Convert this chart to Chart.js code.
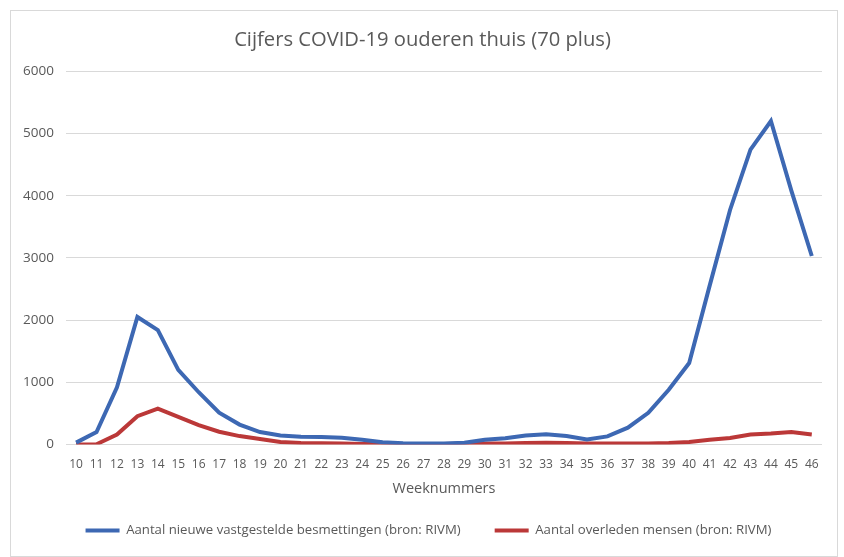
<!DOCTYPE html>
<html>
<head>
<meta charset="utf-8">
<script src="https://cdn.jsdelivr.net/npm/chart.js@4.4.1/dist/chart.umd.min.js"></script>
<style>
  html, body { margin: 0; padding: 0; background: #fff; }
  #wrap { position: relative; width: 844px; height: 557px; }
  #frame { position: absolute; left: 10px; top: 10px; width: 828px; height: 547px; border: 1px solid #d9d9d9; box-sizing: border-box; pointer-events: none; }
  canvas { position: absolute; left: 0; top: 0; }
</style>
</head>
<body>
<div id="wrap">
  <canvas id="chart" width="844" height="557"></canvas>
  <div id="frame"></div>
</div>
<script>
const FONT = '"Open Sans", sans-serif';

const weeks = ['10', '11', '12', '13', '14', '15', '16', '17', '18', '19', '20', '21', '22',
  '23', '24', '25', '26', '27', '28', '29', '30', '31', '32', '33', '34', '35', '36', '37',
  '38', '39', '40', '41', '42', '43', '44', '45', '46'];

// nieuwe vastgestelde besmettingen
const infections = [30, 200, 920, 2050, 1840, 1200, 840, 510, 320, 200, 145, 125, 120,
  110, 75, 35, 20, 15, 15, 30, 75, 100, 145, 165, 135, 80, 130, 270,
  510, 880, 1310, 2550, 3770, 4740, 5200, 4080, 3030];

// overleden mensen
const deaths = [0, 5, 160, 455, 575, 445, 310, 205, 135, 90, 40, 25, 20,
  15, 10, 10, 8, 8, 10, 12, 15, 18, 25, 30, 25, 15, 15, 15,
  18, 25, 40, 75, 105, 160, 175, 200, 160];

const yTicks = [0, 1000, 2000, 3000, 4000, 5000, 6000];

const BLUE = '#3d68b3';
const RED = '#bb3838';
const TEXT = '#595959';

// the legend sits a little right of the canvas centre in the original
const legendShift = {
  id: 'legendShift',
  afterLayout(c) { c.legend.left += 12; },
};

const ctx = document.getElementById('chart');

const chart = new Chart(ctx, {
  type: 'line',
  data: {
    labels: weeks,
    datasets: [
      {
        label: 'Aantal nieuwe vastgestelde besmettingen (bron: RIVM)',
        data: infections,
        borderColor: BLUE,
        backgroundColor: BLUE,
        borderWidth: 4,
        pointRadius: 0,
        tension: 0,
      },
      {
        label: 'Aantal overleden mensen (bron: RIVM)',
        data: deaths,
        borderColor: RED,
        backgroundColor: RED,
        borderWidth: 4,
        pointRadius: 0,
        tension: 0,
      },
    ],
  },
  plugins: [legendShift],
  options: {
    responsive: false,
    animation: false,
    layout: {
      padding: { left: 23, right: 22, top: 14, bottom: 10 },
    },
    scales: {
      x: {
        offset: true,
        // tick marks hidden, their length only pushes the labels down
        grid: { display: false, drawTicks: true, tickLength: 13 },
        border: { display: false },
        ticks: {
          color: TEXT,
          font: { family: FONT, size: 12 },
          padding: 0,
          maxRotation: 0,
          autoSkip: false,
        },
        title: {
          display: true,
          text: 'Weeknummers',
          color: TEXT,
          font: { family: FONT, size: 14.5 },
          padding: { top: 8, bottom: 16.5 },
        },
      },
      y: {
        min: 0,
        max: 6000,
        afterBuildTicks: (axis) => { axis.ticks = yTicks.map((v) => ({ value: v })); },
        // padding is counted on both sides of the labels, drop the outer one
        afterFit: (axis) => { axis.width -= 12; },
        grid: { color: '#d9d9d9', lineWidth: 1, drawTicks: false },
        border: { display: false },
        ticks: {
          color: TEXT,
          font: { family: FONT, size: 13.5 },
          padding: 12,
          callback: (v) => String(v),
        },
      },
    },
    plugins: {
      title: {
        display: true,
        text: 'Cijfers COVID-19 ouderen thuis (70 plus)',
        color: TEXT,
        font: { family: FONT, size: 20.2, weight: 'normal' },
        padding: { top: 14, bottom: 19 },
      },
      legend: {
        position: 'bottom',
        labels: {
          color: TEXT,
          font: { family: FONT, size: 13.2 },
          boxWidth: 34,
          boxHeight: 4,
          padding: 10,
          generateLabels: (c) => Chart.defaults.plugins.legend.labels.generateLabels(c)
            .map((item, i) => ({
              ...item,
              lineWidth: 0,
              text: i === 0 ? item.text + '       ' : item.text,
            })),
        },
      },
      tooltip: { enabled: false },
    },
  },
});
</script>
</body>
</html>
